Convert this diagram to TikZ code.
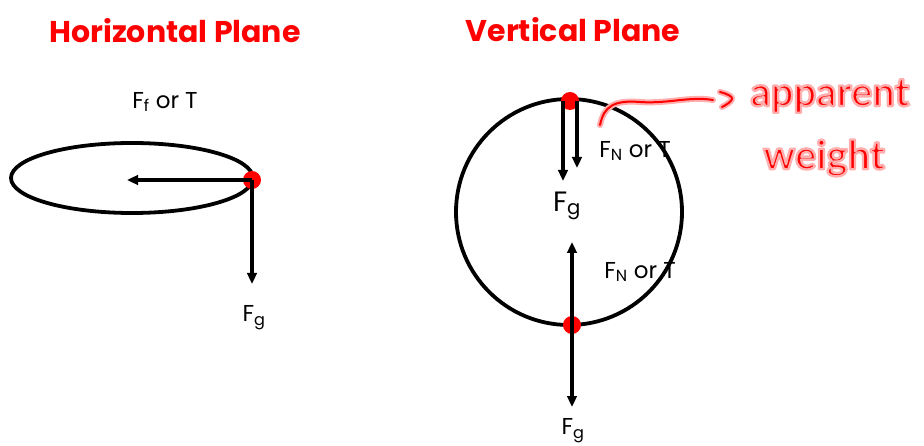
\documentclass[tikz,border=0pt]{standalone}
\usepackage{fontspec}
\setmainfont{Poppins}
\newfontfamily\handfont{Lato}
\usetikzlibrary{arrows.meta,positioning}
% red letters with a pale stroke round them
\newcommand{\glowtext}[1]{{\color{red}\special{pdf:literal direct 1 0.68 0.68 RG 2.4 w 1 j 2 Tr}#1\special{pdf:literal direct 0 Tr}}}

\begin{document}
\begin{tikzpicture}[
    x=1pt, y=-1pt,
    every node/.style={font=\fontsize{23}{27}\selectfont, inner sep=0pt},
    title/.style={text=red, font=\fontsize{30}{34}\selectfont\bfseries},
    ring/.style={line width=3.8pt},
    force/.style={line width=3.3pt, -{Triangle[length=11pt,width=9.5pt]}},
    mass/.style={circle, fill=red, inner sep=0pt, minimum size=18pt},
    note/.style={font=\fontsize{40}{44}\selectfont\handfont\bfseries},
    pointer/.style={red, line width=2pt, line cap=round, line join=round},
    pointerglow/.style={red!32, line width=6pt, line cap=round, line join=round}
]
\useasboundingbox (0,0) rectangle (924,446);

% horizontal plane
\node[title] (htitle) at (175,31) {Horizontal Plane};
\draw[ring] (132,178) ellipse [x radius=121, y radius=35];
\node[mass] (hmass) at (252,180) {};
\coordinate (hcentre) at (127,180);
\coordinate (hdown) at (252,284);
\draw[force] (hmass.center) -- (hcentre);
\draw[force] (hmass.center) -- (hdown);
\node (hft) at (165,102) {F\textsubscript{f} or T};
\node (hfg) at (254,318) {F\textsubscript{g}};

% vertical plane
\node[title] (vtitle) at (573,30) {Vertical Plane};
\draw[ring] (569,212) circle [radius=113];
\node[mass] (topmass) at (570,101) {};
\node[mass] (botmass) at (572,325) {};
\coordinate (topfg) at (563,181);
\coordinate (topfn) at (577,168);
\draw[force] ([xshift=-7pt]topmass.center) -- (topfg);
\draw[force] ([xshift=7pt]topmass.center) -- (topfn);
\node (topfnlabel) at (635,151) {F\textsubscript{N} or T};
\node[font=\fontsize{28}{32}\selectfont] (topfglabel) at (567,206) {F\textsubscript{g}};
\coordinate (botup) at (572,242);
\coordinate (botdown) at (572,407);
\draw[force] (botmass.center) -- (botup);
\draw[force] (botmass.center) -- (botdown);
\node (botfnlabel) at (640,272) {F\textsubscript{N} or T};
\node (botfglabel) at (573,431) {F\textsubscript{g}};

% apparent weight note
\coordinate (pstart) at (600,125);
\coordinate (pend) at (713,100);
\foreach \s in {pointerglow,pointer} {
  \draw[\s] (pstart) .. controls (604,106) and (614,100) .. (640,102)
    .. controls (668,104) and (690,96) .. (pend);
  \draw[\s] (720,92) .. controls (728,94) and (733,97) .. (732,99)
    .. controls (731,102) and (726,105) .. (722,107);
}
\node[note] (notea) at (830,96) {\glowtext{apparent}};
\node[note] (notew) at (824,158) {\glowtext{weight}};
\end{tikzpicture}
\end{document}
